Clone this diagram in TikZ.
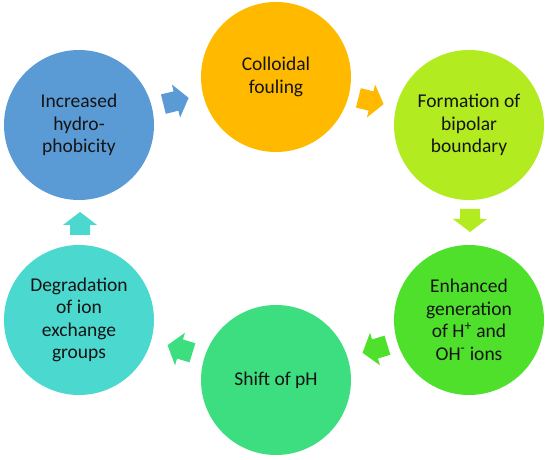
\documentclass[tikz,border=0pt]{standalone}
\usepackage{fontspec}
\setmainfont{Carlito}
\usetikzlibrary{calc}
\definecolor{cBlue}{HTML}{5B9BD5}
\definecolor{cOrange}{HTML}{FFBA00}
\definecolor{cYG}{HTML}{B2EB1F}
\definecolor{cGreen}{HTML}{4FE02C}
\definecolor{cMint}{HTML}{3DDE80}
\definecolor{cTurq}{HTML}{4BD8CF}
\definecolor{cText}{HTML}{141414}
\tikzset{
  stage/.style={circle, minimum size=150pt, inner sep=0pt, align=center,
    font=\fontsize{19.5}{22.5}\selectfont, text=cText},
  pics/barrow/.style={code={
    \fill[pic actions] (-#1,-10) -- (0,-10) -- (0,-17) -- (13,0) -- (0,17) -- (0,10) -- (-#1,10) -- cycle;}}
}
\begin{document}
\begin{tikzpicture}[x=1pt,y=1pt]
\useasboundingbox (0,0) rectangle (550,459);
\node[stage, fill=cBlue]   (inc) at (79,334) {Increased\\hydro-\\phobicity};
\node[stage, fill=cOrange] (col) at (276,382) {Colloidal\\fouling};
\node[stage, fill=cYG]     (bip) at (469,334) {Formation of\\bipolar\\boundary};
\node[stage, fill=cGreen]  (enh) at (469,139) {Enhanced\\generation\\of H\textsuperscript{+} and\\OH\textsuperscript{-} ions};
\node[stage, fill=cMint]   (ph)  at (276,79)  {Shift of pH};
\node[stage, fill=cTurq]   (deg) at (79,139)  {Degradation\\of ion\\exchange\\groups};
\pic[fill=cBlue, rotate=14]    at (176,358) {barrow=13};
\pic[fill=cOrange, rotate=-14] at (371,358) {barrow=13};
\pic[fill=cYG, rotate=-90]     at (470,240) {barrow=10};
\pic[fill=cGreen, rotate=197]  at (375,110) {barrow=13};
\pic[fill=cMint, rotate=163]   at (180,110) {barrow=13};
\pic[fill=cTurq, rotate=90]    at (80,234)  {barrow=10};
\end{tikzpicture}
\end{document}
